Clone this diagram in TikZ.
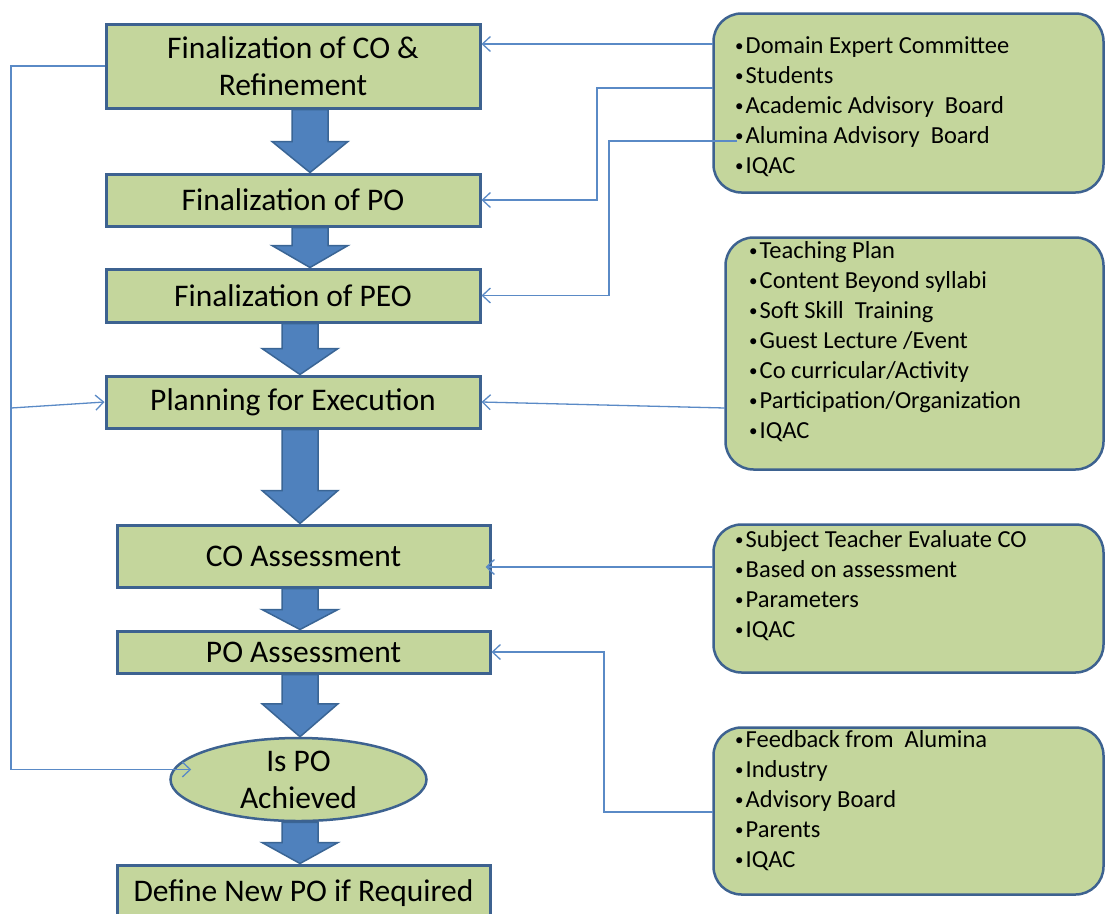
\documentclass[tikz,border=0pt]{standalone}
\usepackage{fontspec}
\setmainfont{Carlito}
\usetikzlibrary{shapes.geometric,arrows.meta,calc}
\definecolor{boxfill}{HTML}{C4D69C}
\definecolor{boxedge}{HTML}{3D6290}
\definecolor{arrfill}{HTML}{4F81BD}
\definecolor{arredge}{HTML}{3A6595}
\definecolor{linec}{HTML}{5A8AC6}
\newcommand\blockarr[4]{%
  \path[blockarrow] let \p1=(#2.south), \p2=(#3.north) in
  (#1pt-18pt,\y1) -- (#1pt-18pt,\y2+#4pt) -- (#1pt-38pt,\y2+#4pt) -- (#1pt,\y2)
  -- (#1pt+38pt,\y2+#4pt) -- (#1pt+18pt,\y2+#4pt) -- (#1pt+18pt,\y1) -- cycle;}
\newcommand\bul{\makebox[10.5pt][l]{\raisebox{2pt}{\fontsize{17}{17}\selectfont•}}}
\begin{document}
\begin{tikzpicture}[x=1pt,y=-1pt,
  stage/.style={draw=boxedge, fill=boxfill, line width=3pt, minimum width=374pt,
    inner sep=0pt, font=\fontsize{31.5}{37}\selectfont, align=center},
  decision/.style={ellipse, draw=boxedge, fill=boxfill, line width=2.5pt,
    minimum width=256pt, minimum height=83pt, inner sep=0pt,
    font=\fontsize{31.5}{37}\selectfont, align=center},
  source/.style={draw=boxedge, fill=boxfill, line width=2.5pt, rounded corners=28pt, inner sep=0pt},
  listtext/.style={anchor=base west, align=left, inner sep=0pt, font=\fontsize{24.5}{30}\selectfont},
  link/.style={draw=linec, line width=1.3pt, -{Straight Barb[length=8pt,width=15pt]}},
  blockarrow/.style={fill=arrfill, draw=arredge, line width=1.5pt, line join=miter}
]
\useasboundingbox (0,0) rectangle (1105,913);
\clip (0,0) rectangle (1105,913);

% left column
\node[stage, minimum height=84pt] (b1) at (293,66) {Finalization of CO \&\\Refinement};
\node[stage, minimum height=52pt] (b2) at (293,200) {Finalization of PO};
\node[stage, minimum height=53pt] (b3) at (293,295.5) {Finalization of PEO};
\node[stage, minimum height=52pt] (b4) at (293,402) {Planning for Execution};
\node[stage, minimum height=62pt, minimum width=373pt] (b5) at (303.5,556) {CO Assessment};
\node[stage, minimum height=42pt, minimum width=373pt] (b6) at (303.5,652) {PO Assessment};
\node[decision] (ell) at (298.5,779.5) {Is PO\\Achieved};
\node[stage, minimum height=56pt, minimum width=373pt] (b7) at (303.5,893) {Define New PO if Required};

% block arrows
\blockarr{310}{b1}{b2}{31}
\blockarr{310}{b2}{b3}{22}
\blockarr{300}{b3}{b4}{26}
\blockarr{300}{b4}{b5}{33}
\blockarr{300}{b5}{b6}{20}
\blockarr{300}{b6}{ell}{33}
\blockarr{300}{ell}{b7}{21}

% right column
\node[source, minimum width=390pt, minimum height=179pt] (r1) at (908.5,103) {};
\node[source, minimum width=378pt, minimum height=232pt] (r2) at (914.5,353.5) {};
\node[source, minimum width=390pt, minimum height=148pt] (r3) at (908.5,598.5) {};
\node[source, minimum width=390pt, minimum height=167pt] (r4) at (908.5,811) {};

% anchors are at the baseline of the last line
\node[listtext] (t1) at (735,173) {\bul Domain Expert Committee\\\bul Students\\\bul Academic Advisory~ Board\\\bul Alumina Advisory~ Board\\\bul IQAC};
\node[listtext] (t2) at (749,438) {\bul Teaching Plan\\\bul Content Beyond syllabi\\\bul Soft Skill~ Training\\\bul Guest Lecture /Event\\\bul Co curricular/Activity\\\bul Participation/Organization\\\bul IQAC};
\node[listtext] (t3) at (735,637) {\bul Subject Teacher Evaluate CO\\\bul Based on assessment\\\bul Parameters\\\bul IQAC};
\node[listtext] (t4) at (735,867) {\bul Feedback from~ Alumina\\\bul Industry\\\bul Advisory Board\\\bul Parents\\\bul IQAC};

% connectors from right
\coordinate (s1) at (713,44);
\coordinate (s2) at (713,88);
\coordinate (k2) at (597,88);
\coordinate (s3) at (737,141);
\coordinate (k3) at (609,141);
\coordinate (s4) at (725,408);
\coordinate (s5) at (713,567);
\coordinate (e5) at ($(b5.east)+(-6,11)$);
\coordinate (s6) at (713,812);
\coordinate (k6) at (604,812);
\draw[link] (s1) -- (s1 -| b1.east);
\draw[link] (s2) -- (k2) |- (b2.east);
\draw[link] (s3) -- (k3) |- (b3.east);
\draw[link] (s4) -- (b4.east);
\draw[link] (s5) -- (e5);
\draw[link] (s6) -- (k6) |- (b6.east);

% feedback loop on the left
\coordinate (fbtop) at (11,66);
\coordinate (fbmid) at (11,408);
\coordinate (ellin) at ($(ell.west)+(22,-10)$);
\draw[link] (b1.west) -- (fbtop) |- (ellin);
\draw[link] (fbmid) -- (b4.west);
\end{tikzpicture}
\end{document}
